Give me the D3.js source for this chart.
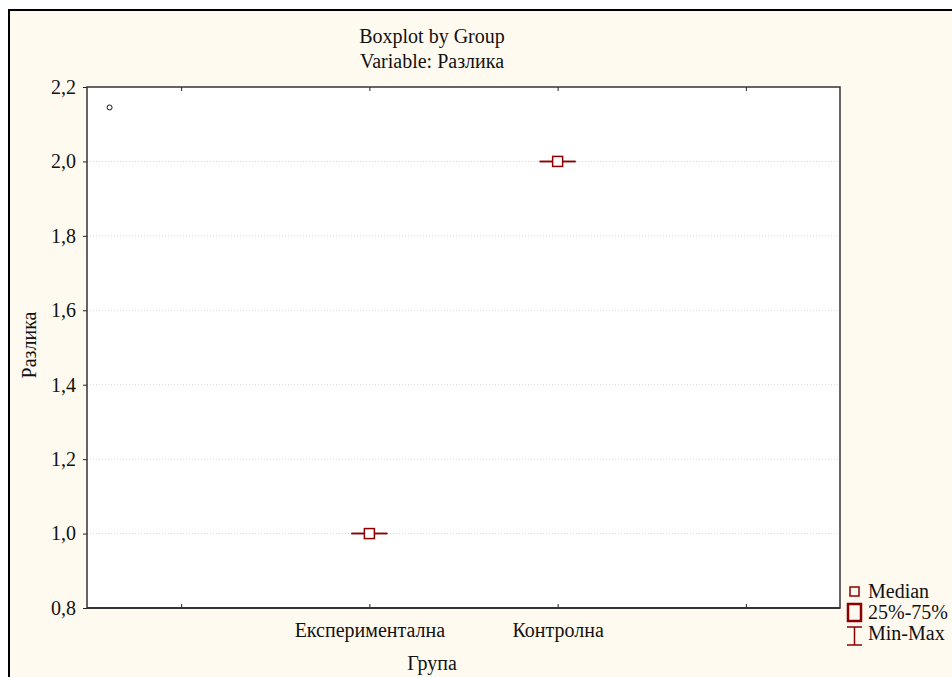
<!DOCTYPE html>
<html>
<head>
<meta charset="utf-8">
<script src="https://cdn.jsdelivr.net/npm/d3@7"></script>
<style>
  body { margin: 0; background: #fff; }
  svg text { font-family: 'Liberation Serif', 'Times New Roman', serif !important; fill: #111; }
</style>
</head>
<body>
<div id="chart"></div>
<script>
// chart values
var groups = ["", "Експериментална", "Контролна", ""];
var medians = [null, 1.0, 2.0, null];
var q1 = [null, 1.0, 2.0, null];
var q3 = [null, 1.0, 2.0, null];
var mins = [null, 1.0, 2.0, null];
var maxs = [null, 1.0, 2.0, null];
var yTicks = [0.8, 1.0, 1.2, 1.4, 1.6, 1.8, 2.0, 2.2];
// stray point in the upper left corner (x in category-index units)
var strayX = [-0.38];
var strayY = [2.145];

var W = 952, H = 677;
var margin = {top: 87, right: 112, bottom: 69, left: 87},
    width = 840 - margin.left,
    height = 608 - margin.top;

var dark = "#8b0000";
var fs = "20px";
var fmt = function(d) { return d3.format(".1f")(d).replace(".", ","); };

var svg = d3.select("#chart").append("svg")
    .attr("width", W)
    .attr("height", H)
    .attr("font-family", "'Liberation Serif', serif");

// page background and frame
svg.append("rect")
    .attr("x", 0).attr("y", 0).attr("width", W).attr("height", H)
    .attr("fill", "#fff");
svg.append("rect")
    .attr("x", 9).attr("y", 10).attr("width", W).attr("height", H)
    .attr("fill", "#fffaf0")
    .attr("stroke", "#000")
    .attr("stroke-width", 2);

var g = svg.append("g")
    .attr("transform", "translate(" + margin.left + "," + margin.top + ")");

var x = d3.scaleLinear().domain([-0.5, groups.length - 0.5]).range([0, width]);
var y = d3.scaleLinear().domain([0.8, 2.2]).range([height, 0]);

g.append("rect")
    .attr("width", width).attr("height", height)
    .attr("fill", "#fff");

// dotted grid lines
g.selectAll(".grid")
    .data(yTicks.slice(1, -1))
    .enter().append("line")
    .attr("class", "grid")
    .attr("x1", 0).attr("x2", width)
    .attr("y1", function(d) { return y(d); })
    .attr("y2", function(d) { return y(d); })
    .attr("stroke", "#d8d8d8")
    .attr("stroke-width", 1)
    .attr("stroke-dasharray", "1,2");

// y axis
var yAxis = g.append("g")
    .call(d3.axisLeft(y).tickValues(yTicks).tickFormat(fmt).tickSize(4).tickSizeOuter(0));
yAxis.attr("font-family", null).attr("font-size", null);
yAxis.select(".domain").remove();
yAxis.selectAll("line").attr("stroke", "#222");
yAxis.selectAll("text")
    .attr("x", -11)
    .style("font-size", fs)
    .attr("fill", "#111");

// x axis (ticks point inward, at bottom and top)
var xs = d3.range(groups.length);
var xAxis = g.append("g")
    .attr("transform", "translate(0," + height + ")")
    .call(d3.axisBottom(x).tickValues(xs).tickFormat(function(i) { return groups[i]; }).tickSize(-4).tickSizeOuter(0));
xAxis.attr("font-family", null).attr("font-size", null);
xAxis.select(".domain").remove();
xAxis.selectAll("line").attr("stroke", "#222");
xAxis.selectAll("text")
    .attr("y", 15)
    .attr("dy", "0.71em")
    .style("font-size", fs)
    .attr("fill", "#111");

var xTop = g.append("g")
    .call(d3.axisTop(x).tickValues(xs).tickFormat("").tickSize(-4).tickSizeOuter(0));
xTop.select(".domain").remove();
xTop.selectAll("line").attr("stroke", "#222");

// plot frame
g.append("rect")
    .attr("width", width).attr("height", height)
    .attr("fill", "none")
    .attr("stroke", "#333")
    .attr("stroke-width", 1.5);
g.append("line")
    .attr("x1", 0).attr("x2", width).attr("y1", height).attr("y2", height)
    .attr("stroke", "#333").attr("stroke-width", 2);

// boxes
var capW = 36, boxW = 18, medS = 10;
var data = xs.filter(function(i) { return medians[i] !== null; });

var box = g.selectAll(".box")
    .data(data)
    .enter().append("g")
    .attr("class", "box");

// whisker
box.append("line")
    .attr("x1", function(i) { return x(i); })
    .attr("x2", function(i) { return x(i); })
    .attr("y1", function(i) { return y(mins[i]); })
    .attr("y2", function(i) { return y(maxs[i]); })
    .attr("stroke", dark).attr("stroke-width", 1.5);
box.append("line")
    .attr("x1", function(i) { return x(i) - capW / 2; })
    .attr("x2", function(i) { return x(i) + capW / 2; })
    .attr("y1", function(i) { return y(mins[i]); })
    .attr("y2", function(i) { return y(mins[i]); })
    .attr("stroke", dark).attr("stroke-width", 1.5);
box.append("line")
    .attr("x1", function(i) { return x(i) - capW / 2; })
    .attr("x2", function(i) { return x(i) + capW / 2; })
    .attr("y1", function(i) { return y(maxs[i]); })
    .attr("y2", function(i) { return y(maxs[i]); })
    .attr("stroke", dark).attr("stroke-width", 1.5);
// 25%-75% box
box.append("rect")
    .attr("x", function(i) { return x(i) - boxW / 2; })
    .attr("y", function(i) { return y(q3[i]); })
    .attr("width", boxW)
    .attr("height", function(i) { return y(q1[i]) - y(q3[i]); })
    .attr("fill", "none")
    .attr("stroke", dark).attr("stroke-width", 1.5);
// median
box.append("rect")
    .attr("x", function(i) { return x(i) - medS / 2; })
    .attr("y", function(i) { return y(medians[i]) - medS / 2; })
    .attr("width", medS).attr("height", medS)
    .attr("fill", "#fff")
    .attr("stroke", dark).attr("stroke-width", 1.5);

// stray point
g.selectAll(".stray")
    .data(strayX)
    .enter().append("circle")
    .attr("cx", function(d) { return x(d); })
    .attr("cy", function(d, i) { return y(strayY[i]); })
    .attr("r", 2.5)
    .attr("fill", "none")
    .attr("stroke", "#111")
    .attr("stroke-width", 1);

// titles
svg.append("text")
    .attr("x", 432).attr("y", 43)
    .attr("text-anchor", "middle")
    .style("font-size", fs)
    .text("Boxplot by Group");
svg.append("text")
    .attr("x", 432).attr("y", 68)
    .attr("text-anchor", "middle")
    .style("font-size", fs)
    .text("Variable: Разлика");
svg.append("text")
    .attr("x", 432).attr("y", 670)
    .attr("text-anchor", "middle")
    .style("font-size", fs)
    .text("Група");
svg.append("text")
    .attr("transform", "translate(36,345) rotate(-90)")
    .attr("text-anchor", "middle")
    .style("font-size", fs)
    .text("Разлика");

// legend
var lg = svg.append("g");
lg.append("rect")
    .attr("x", 850).attr("y", 587).attr("width", 9).attr("height", 9)
    .attr("fill", "none").attr("stroke", dark).attr("stroke-width", 1.5);
lg.append("text").attr("x", 868).attr("y", 598).style("font-size", fs).text("Median");
lg.append("rect")
    .attr("x", 848).attr("y", 604).attr("width", 13).attr("height", 17)
    .attr("fill", "none").attr("stroke", dark).attr("stroke-width", 2.5);
lg.append("text").attr("x", 868).attr("y", 619).style("font-size", fs).text("25%-75%");
lg.append("line").attr("x1", 854.5).attr("x2", 854.5).attr("y1", 627).attr("y2", 645)
    .attr("stroke", dark).attr("stroke-width", 1.5);
lg.append("line").attr("x1", 847).attr("x2", 862).attr("y1", 627).attr("y2", 627)
    .attr("stroke", dark).attr("stroke-width", 1.5);
lg.append("line").attr("x1", 847).attr("x2", 862).attr("y1", 645).attr("y2", 645)
    .attr("stroke", dark).attr("stroke-width", 1.5);
lg.append("text").attr("x", 868).attr("y", 640).style("font-size", fs).text("Min-Max");
</script>
</body>
</html>
